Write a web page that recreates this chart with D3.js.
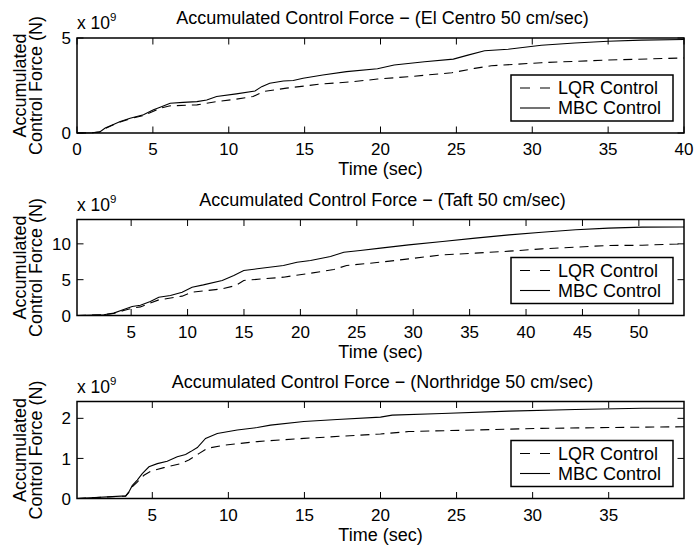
<!DOCTYPE html>
<html>
<head>
<meta charset="utf-8">
<script src="https://cdn.jsdelivr.net/npm/d3@7/dist/d3.min.js"></script>
<style>
  body { margin: 0; background: #fff; }
  svg { display: block; font-family: "Liberation Sans", Arial, Helvetica, sans-serif; }
</style>
</head>
<body>
<script>
// values are in units of 1e9 N, time in sec

// El Centro
const elCentroMbcT = [0, 1.0, 1.5, 1.86, 2.4, 2.85, 3.5, 4.38, 5.04, 5.48, 6.14, 7.0, 7.9, 8.55, 9.2, 10.5, 11.73, 12.17, 12.7, 13.6, 14.25, 14.9, 16.2, 17.76, 19.8, 20.9, 22.9, 24.8, 25.76, 26.86, 28.4, 30.6, 32.8, 35, 37.2, 40];
const elCentroMbc  = [0, 0.01, 0.06, 0.26, 0.45, 0.61, 0.78, 0.96, 1.22, 1.36, 1.57, 1.61, 1.65, 1.74, 1.92, 2.06, 2.21, 2.44, 2.62, 2.74, 2.76, 2.88, 3.05, 3.23, 3.38, 3.58, 3.75, 3.89, 4.1, 4.33, 4.41, 4.62, 4.74, 4.83, 4.89, 4.92];
const elCentroLqrT = [0, 1.0, 1.5, 1.86, 2.4, 2.85, 3.5, 4.38, 5.04, 5.48, 6.14, 7.9, 9.2, 10.5, 11.6, 12.28, 13.8, 16, 18.2, 19.8, 21.8, 24.7, 26.2, 27.3, 30.6, 35, 40];
const elCentroLqr  = [0, 0.01, 0.05, 0.24, 0.43, 0.58, 0.75, 0.92, 1.15, 1.3, 1.43, 1.48, 1.65, 1.78, 1.92, 2.18, 2.36, 2.57, 2.7, 2.84, 2.96, 3.17, 3.4, 3.54, 3.7, 3.84, 3.95];

// Taft
const taftMbcT = [0.2, 2.57, 3.46, 4.34, 5.09, 5.82, 6.7, 7.45, 8.48, 9.52, 10.4, 11.4, 13.07, 14.1, 14.98, 16.17, 18.5, 19.7, 20.9, 22.67, 23.85, 25.3, 27.1, 29.6, 32.6, 35.5, 38.5, 41.4, 44.4, 47.3, 50.3, 54];
const taftMbc  = [0, 0.1, 0.33, 0.84, 1.25, 1.43, 1.95, 2.56, 2.79, 3.25, 3.95, 4.27, 4.89, 5.59, 6.28, 6.52, 6.98, 7.44, 7.68, 8.24, 8.84, 9.07, 9.4, 9.86, 10.33, 10.8, 11.26, 11.63, 11.96, 12.19, 12.33, 12.35];
const taftLqrT = [0.2, 2.57, 3.46, 4.34, 5.09, 5.82, 6.7, 7.45, 9.52, 10.4, 13.07, 14.3, 14.98, 18.5, 20.9, 22.96, 24.1, 27.1, 29.6, 32.6, 35.5, 38.5, 41.4, 44.4, 47.3, 50.3, 53.5, 54];
const taftLqr  = [0, 0.1, 0.3, 0.7, 1.02, 1.2, 1.76, 2.18, 2.7, 3.25, 3.72, 4.2, 4.89, 5.35, 5.9, 6.42, 6.98, 7.44, 7.9, 8.47, 8.7, 8.98, 9.3, 9.54, 9.78, 9.8, 10.0, 10.05];

// Northridge
const northMbcT = [0.05, 3.25, 3.46, 3.68, 4.01, 4.34, 4.78, 5.33, 5.98, 6.64, 7.19, 7.52, 7.96, 8.5, 9.27, 10.58, 11.9, 12.77, 14.96, 17.15, 20, 20.77, 24.05, 28.43, 32.8, 37.2, 39.95];
const northMbc  = [0, 0.065, 0.165, 0.32, 0.46, 0.62, 0.79, 0.87, 0.93, 1.04, 1.1, 1.17, 1.27, 1.5, 1.62, 1.71, 1.77, 1.83, 1.92, 1.97, 2.03, 2.08, 2.12, 2.18, 2.22, 2.25, 2.25];
const northLqrT = [0.05, 3.25, 3.46, 3.68, 4.01, 4.45, 4.89, 5.76, 6.86, 7.4, 8.06, 8.61, 9.7, 11.9, 14.96, 20, 21.86, 26.2, 30.6, 35, 39.95];
const northLqr  = [0, 0.06, 0.15, 0.29, 0.41, 0.58, 0.68, 0.77, 0.87, 0.96, 1.12, 1.25, 1.33, 1.42, 1.5, 1.61, 1.67, 1.71, 1.75, 1.77, 1.79];

// axis limits and ticks
const titles = [
  "Accumulated Control Force \u2212 (El Centro 50 cm/sec)",
  "Accumulated Control Force \u2212 (Taft 50 cm/sec)",
  "Accumulated Control Force \u2212 (Northridge 50 cm/sec)"
];
const xDomains = [[0, 40], [0.2, 54], [0.05, 39.95]];
const yDomains = [[0, 5], [0, 13.4], [0, 2.42]];
const xTicks = [d3.range(0, 41, 5), d3.range(5, 51, 5), d3.range(5, 36, 5)];
const yTicks = [[0, 5], [0, 5, 10], [0, 1, 2]];
const seriesNames = ["LQR Control", "MBC Control"];

const zip = (ts, vs) => ts.map((t, i) => ({ t, v: vs[i] }));
const panels = [
  { lqr: zip(elCentroLqrT, elCentroLqr), mbc: zip(elCentroMbcT, elCentroMbc) },
  { lqr: zip(taftLqrT, taftLqr),         mbc: zip(taftMbcT, taftMbc) },
  { lqr: zip(northLqrT, northLqr),       mbc: zip(northMbcT, northMbc) }
];

const W = 695, H = 546;
const left = 77, right = 684;
const tops = [38, 219.5, 401.5];
const plotH = [95, 96, 97];
const dash = "9,6";
const tickFont = "17px", labelFont = "18px";

const svg = d3.select("body").append("svg")
  .attr("width", W).attr("height", H);

panels.forEach((p, i) => {
  const top = tops[i], bottom = top + plotH[i];
  const x = d3.scaleLinear().domain(xDomains[i]).range([left, right]);
  const y = d3.scaleLinear().domain(yDomains[i]).range([bottom, top]);
  const g = svg.append("g");

  // tick labels
  g.selectAll(".xt").data(xTicks[i]).join("text")
    .attr("x", d => x(d)).attr("y", bottom + 22)
    .attr("text-anchor", "middle").attr("font-size", tickFont)
    .text(d => d);
  g.selectAll(".yt").data(yTicks[i]).join("text")
    .attr("x", left - 6).attr("y", d => y(d)).attr("dy", "0.36em")
    .attr("text-anchor", "end").attr("font-size", tickFont)
    .text(d => d);

  // inward ticks on all four sides
  const tl = 6.5;
  g.selectAll(".xtk").data(xTicks[i]).join("path")
    .attr("d", d => `M${x(d)},${bottom}v${-tl}M${x(d)},${top}v${tl}`)
    .attr("stroke", "#000").attr("stroke-width", 1);
  g.selectAll(".ytk").data(yTicks[i]).join("path")
    .attr("d", d => `M${left},${y(d)}h${tl}M${right},${y(d)}h${-tl}`)
    .attr("stroke", "#000").attr("stroke-width", 1);

  // curves
  const line = d3.line().x(d => x(d.t)).y(d => y(d.v));
  g.append("path").datum(p.lqr).attr("d", line)
    .attr("fill", "none").attr("stroke", "#000").attr("stroke-width", 1.1)
    .attr("stroke-dasharray", dash);
  g.append("path").datum(p.mbc).attr("d", line)
    .attr("fill", "none").attr("stroke", "#000").attr("stroke-width", 1.1);

  // frame
  g.append("rect")
    .attr("x", left).attr("y", top)
    .attr("width", right - left).attr("height", bottom - top)
    .attr("fill", "none").attr("stroke", "#000").attr("stroke-width", 1.5);

  // title
  g.append("text")
    .attr("x", (left + right) / 2 + 2).attr("y", top - 14)
    .attr("text-anchor", "middle").attr("font-size", labelFont)
    .text(titles[i]);

  // exponent label
  const ex = g.append("text")
    .attr("x", left).attr("y", top - 9)
    .attr("font-size", "17.5px");
  ex.append("tspan").text("x 10");
  ex.append("tspan").attr("dy", -8).attr("font-size", "11.5px").text("9");

  // x label
  g.append("text")
    .attr("x", (left + right) / 2).attr("y", bottom + 42)
    .attr("text-anchor", "middle").attr("font-size", labelFont)
    .text("Time (sec)");

  // y label, two lines
  const cy = (top + bottom) / 2;
  ["Accumulated", "Control Force (N)"].forEach((s, k) => {
    g.append("text")
      .attr("transform", `translate(${25.5 + k * 16},${cy}) rotate(-90)`)
      .attr("text-anchor", "middle").attr("font-size", labelFont)
      .text(s);
  });

  // legend
  const lw = 162, lh = 46;
  const lx = right - 11 - lw, ly = bottom - 12 - lh;
  const lg = g.append("g").attr("transform", `translate(${lx},${ly})`);
  lg.append("rect").attr("width", lw).attr("height", lh)
    .attr("fill", "#fff").attr("stroke", "#000").attr("stroke-width", 1.5);
  seriesNames.forEach((name, k) => {
    const yy = 13 + k * 20;
    lg.append("line")
      .attr("x1", 9).attr("x2", 39).attr("y1", yy).attr("y2", yy)
      .attr("stroke", "#000").attr("stroke-width", 1.1)
      .attr("stroke-dasharray", k === 0 ? "10,10" : null);
    lg.append("text")
      .attr("x", 47).attr("y", yy).attr("dy", "0.36em")
      .attr("font-size", labelFont)
      .text(name);
  });
});
</script>
</body>
</html>
